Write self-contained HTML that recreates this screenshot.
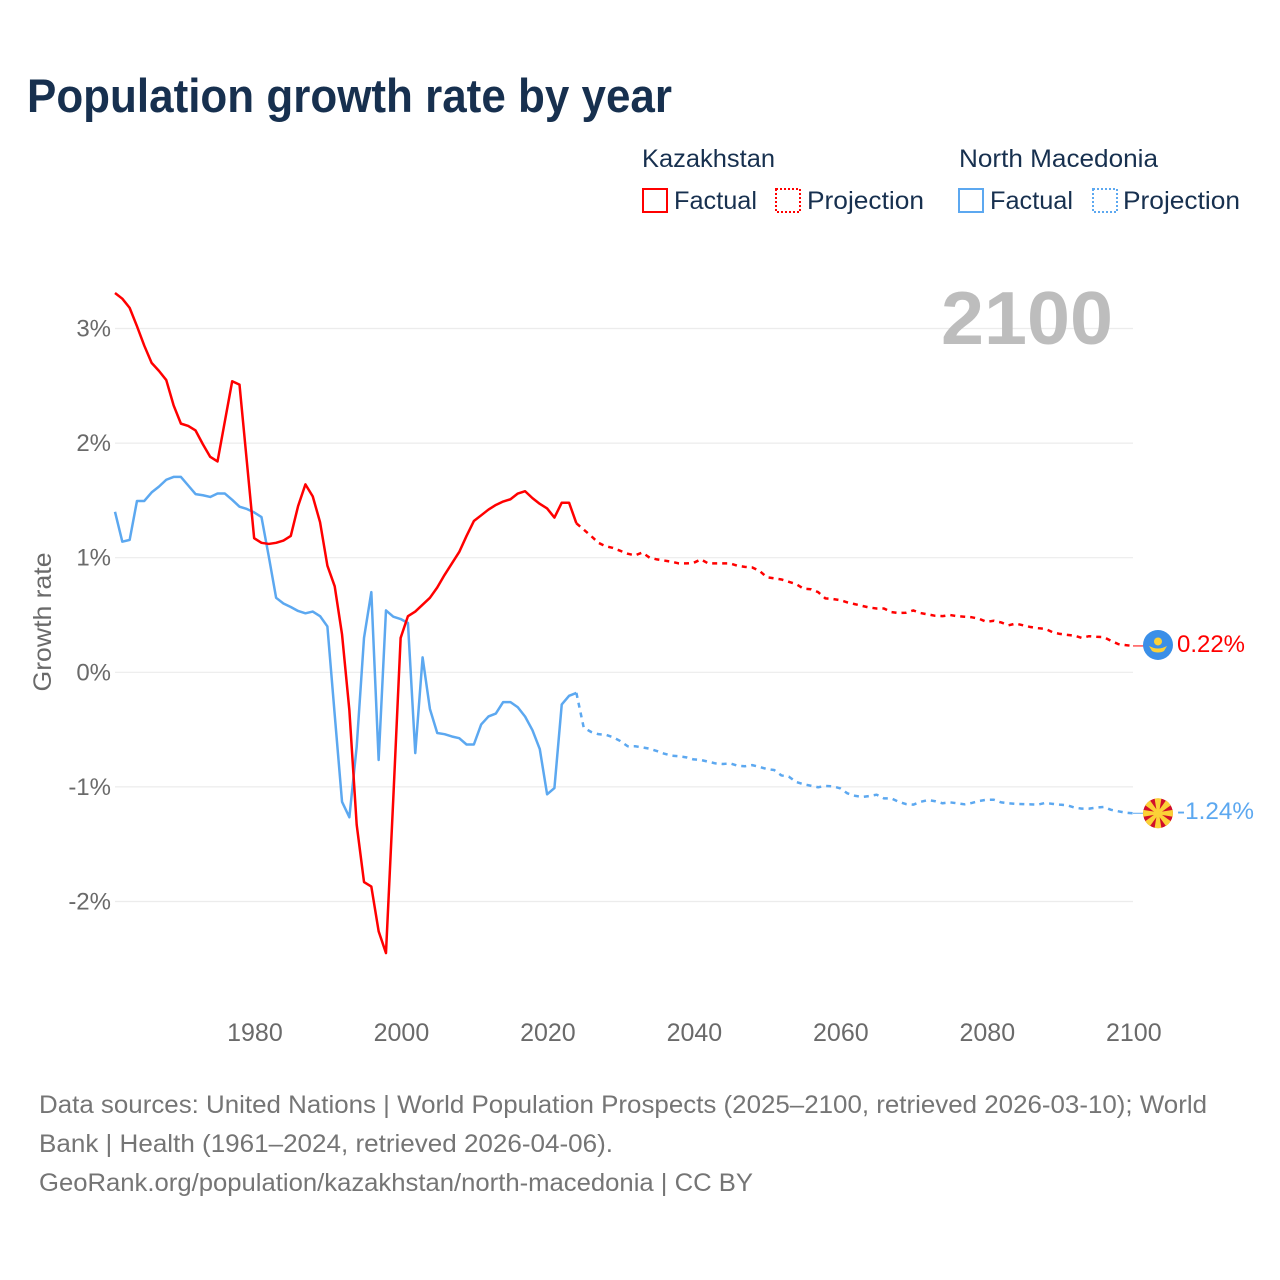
<!DOCTYPE html>
<html lang="en">
<head>
<meta charset="utf-8">
<title>Population growth rate by year</title>
<style>
html,body{margin:0;padding:0;background:#fff;}
svg{display:block;font-family:"Liberation Sans",sans-serif;}
.leg{font-size:25px;fill:#17304f;}
.foot{font-size:25px;fill:#757575;}
.tick{font-size:24px;fill:#6a6a6a;}
</style>
</head>
<body>
<svg id="chart" width="1280" height="1280" viewBox="0 0 1280 1280" xmlns="http://www.w3.org/2000/svg">
  <rect width="1280" height="1280" fill="#fff"/>
  <text x="27" y="112" font-size="47" font-weight="700" fill="#17304f" textLength="645" lengthAdjust="spacingAndGlyphs">Population growth rate by year</text>

  <g>
    <text class="leg" x="642" y="167" textLength="133" lengthAdjust="spacingAndGlyphs">Kazakhstan</text>
    <text class="leg" x="959" y="167" textLength="199" lengthAdjust="spacingAndGlyphs">North Macedonia</text>
    <rect x="643" y="189" width="24" height="23" fill="none" stroke="#ff0000" stroke-width="2"/>
    <text class="leg" x="674" y="209" textLength="83" lengthAdjust="spacingAndGlyphs">Factual</text>
    <rect x="776" y="189" width="24" height="23" fill="none" stroke="#ff0000" stroke-width="2" stroke-dasharray="2 2"/>
    <text class="leg" x="807" y="209" textLength="117" lengthAdjust="spacingAndGlyphs">Projection</text>
    <rect x="959" y="189" width="24" height="23" fill="none" stroke="#5ca8f0" stroke-width="2"/>
    <text class="leg" x="990" y="209" textLength="83" lengthAdjust="spacingAndGlyphs">Factual</text>
    <rect x="1093" y="189" width="24" height="23" fill="none" stroke="#5ca8f0" stroke-width="2" stroke-dasharray="2 2"/>
    <text class="leg" x="1123" y="209" textLength="117" lengthAdjust="spacingAndGlyphs">Projection</text>
  </g>

  <g id="grid"></g>
  <g id="yAxis"></g>
  <g id="xAxis"></g>
  <text transform="translate(51,622) rotate(-90)" text-anchor="middle" font-size="25" fill="#6a6a6a" textLength="139" lengthAdjust="spacingAndGlyphs">Growth rate</text>
  <text x="1113" y="344" text-anchor="end" font-size="75" font-weight="700" fill="#bdbdbd" textLength="172" lengthAdjust="spacingAndGlyphs">2100</text>
  <g id="series"></g>

  <defs>
    <clipPath id="mk-clip"><circle cx="0" cy="0" r="15"/></clipPath>
  </defs>
  <g id="endKz">
    <line x1="1133" x2="1145" y1="0" y2="0" stroke="#ff0000" stroke-width="1"/>
    <g transform="translate(1158,-1)">
      <circle r="15" fill="#3a8fe8"/>
      <circle cx="0" cy="-3.5" r="4" fill="#fbd137"/>
      <path d="M-9,1 C-6,2.5 -3,3.5 0,3.5 C3,3.5 6,2.5 9,1 L6,6 C3,8 -3,8 -6,6 Z" fill="#fbd137"/>
    </g>
    <text id="endKzLabel" x="1177" y="6" font-size="24" fill="#ff0000" textLength="68" lengthAdjust="spacingAndGlyphs"></text>
  </g>
  <g id="endMk">
    <line x1="1133" x2="1145" y1="0" y2="0" stroke="#5ca8f0" stroke-width="1"/>
    <g transform="translate(1158,0)">
      <g clip-path="url(#mk-clip)">
        <circle r="15" fill="#d20f2a"/>
        <g fill="#fbd137">
          <polygon points="-1,0 1,0 3.6,-16 -3.6,-16"/>
          <polygon points="-1,0 1,0 3.6,-16 -3.6,-16" transform="rotate(45)"/>
          <polygon points="-1,0 1,0 3.6,-16 -3.6,-16" transform="rotate(90)"/>
          <polygon points="-1,0 1,0 3.6,-16 -3.6,-16" transform="rotate(135)"/>
          <polygon points="-1,0 1,0 3.6,-16 -3.6,-16" transform="rotate(180)"/>
          <polygon points="-1,0 1,0 3.6,-16 -3.6,-16" transform="rotate(225)"/>
          <polygon points="-1,0 1,0 3.6,-16 -3.6,-16" transform="rotate(270)"/>
          <polygon points="-1,0 1,0 3.6,-16 -3.6,-16" transform="rotate(315)"/>
        </g>
        <circle r="4.2" fill="#fbd137"/>
      </g>
    </g>
    <text id="endMkLabel" x="1177" y="5.5" font-size="24" fill="#5ca8f0" textLength="77" lengthAdjust="spacingAndGlyphs"></text>
  </g>

  <g>
    <text class="foot" x="39" y="1113" textLength="1168" lengthAdjust="spacingAndGlyphs">Data sources: United Nations | World Population Prospects (2025–2100, retrieved 2026-03-10); World</text>
    <text class="foot" x="39" y="1152" textLength="574" lengthAdjust="spacingAndGlyphs">Bank | Health (1961–2024, retrieved 2026-04-06).</text>
    <text class="foot" x="39" y="1191" textLength="714" lengthAdjust="spacingAndGlyphs">GeoRank.org/population/kazakhstan/north-macedonia | CC BY</text>
  </g>
</svg>

<script>
const xTickYears = [1980, 2000, 2020, 2040, 2060, 2080, 2100];
const yTickValues = [3, 2, 1, 0, -1, -2];
const yTickLabels = ["3%", "2%", "1%", "0%", "-1%", "-2%"];

const factualYears = [1961,1962,1963,1964,1965,1966,1967,1968,1969,1970,1971,1972,1973,1974,1975,1976,1977,1978,1979,1980,1981,1982,1983,1984,1985,1986,1987,1988,1989,1990,1991,1992,1993,1994,1995,1996,1997,1998,1999,2000,2001,2002,2003,2004,2005,2006,2007,2008,2009,2010,2011,2012,2013,2014,2015,2016,2017,2018,2019,2020,2021,2022,2023,2024];
const projectionYears = [2024,2025,2026,2027,2028,2029,2030,2031,2032,2033,2034,2035,2036,2037,2038,2039,2040,2041,2042,2043,2044,2045,2046,2047,2048,2049,2050,2051,2052,2053,2054,2055,2056,2057,2058,2059,2060,2061,2062,2063,2064,2065,2066,2067,2068,2069,2070,2071,2072,2073,2074,2075,2076,2077,2078,2079,2080,2081,2082,2083,2084,2085,2086,2087,2088,2089,2090,2091,2092,2093,2094,2095,2096,2097,2098,2099,2100];

const kazakhstanFactual = [3.31,3.26,3.18,3.02,2.85,2.70,2.63,2.55,2.33,2.17,2.15,2.11,1.99,1.88,1.84,2.19,2.54,2.51,1.84,1.17,1.13,1.12,1.13,1.15,1.19,1.45,1.64,1.535,1.31,0.93,0.75,0.33,-0.33,-1.33,-1.83,-1.87,-2.26,-2.45,-1.10,0.30,0.49,0.53,0.59,0.65,0.74,0.85,0.95,1.05,1.19,1.32,1.37,1.42,1.46,1.49,1.51,1.56,1.58,1.52,1.47,1.43,1.35,1.48,1.48,1.30];
const kazakhstanProjection = [1.30,1.245,1.19,1.13,1.10,1.085,1.06,1.035,1.02,1.045,1.00,0.985,0.975,0.965,0.95,0.95,0.955,0.985,0.95,0.95,0.95,0.95,0.93,0.92,0.915,0.885,0.83,0.82,0.81,0.79,0.77,0.73,0.725,0.70,0.645,0.64,0.63,0.61,0.595,0.58,0.565,0.557,0.557,0.525,0.517,0.52,0.54,0.517,0.505,0.493,0.49,0.50,0.49,0.485,0.48,0.467,0.44,0.45,0.435,0.41,0.425,0.41,0.395,0.385,0.38,0.35,0.335,0.327,0.32,0.30,0.315,0.31,0.307,0.275,0.246,0.237,0.23];

const macedoniaFactual = [1.40,1.14,1.155,1.495,1.495,1.57,1.62,1.68,1.705,1.705,1.63,1.555,1.545,1.53,1.56,1.56,1.505,1.445,1.425,1.395,1.355,1.01,0.65,0.60,0.57,0.535,0.515,0.53,0.49,0.40,-0.37,-1.13,-1.265,-0.65,0.30,0.70,-0.765,0.54,0.485,0.465,0.43,-0.705,0.13,-0.32,-0.53,-0.54,-0.56,-0.575,-0.63,-0.63,-0.455,-0.385,-0.36,-0.26,-0.26,-0.305,-0.387,-0.505,-0.67,-1.065,-1.01,-0.28,-0.205,-0.18];
const macedoniaProjection = [-0.18,-0.483,-0.52,-0.54,-0.545,-0.567,-0.60,-0.645,-0.645,-0.655,-0.667,-0.687,-0.71,-0.728,-0.733,-0.742,-0.76,-0.765,-0.78,-0.795,-0.80,-0.795,-0.815,-0.82,-0.81,-0.826,-0.844,-0.853,-0.90,-0.91,-0.957,-0.977,-0.99,-1.003,-0.992,-0.995,-1.012,-1.056,-1.077,-1.088,-1.08,-1.068,-1.10,-1.10,-1.13,-1.15,-1.155,-1.13,-1.115,-1.125,-1.143,-1.135,-1.143,-1.152,-1.14,-1.123,-1.112,-1.112,-1.135,-1.143,-1.148,-1.15,-1.152,-1.155,-1.14,-1.148,-1.155,-1.16,-1.18,-1.19,-1.19,-1.18,-1.175,-1.20,-1.213,-1.225,-1.23];

const endValueLabels = ["0.22%", "-1.24%"];

const SVG_NS = "http://www.w3.org/2000/svg";
const xScale = year => 115 + (year - 1961) * (1133 - 115) / (2100 - 1961);
const yScale = value => 672.3 - value * 114.6;

function pathFrom(years, values) {
  return values.map((v, i) => (i ? "L" : "M") + xScale(years[i]).toFixed(2) + "," + yScale(v).toFixed(2)).join(" ");
}

const grid = document.getElementById("grid");
const yAxis = document.getElementById("yAxis");
const xAxis = document.getElementById("xAxis");
const seriesGroup = document.getElementById("series");

yTickValues.forEach((value, i) => {
  const line = document.createElementNS(SVG_NS, "line");
  line.setAttribute("x1", 115);
  line.setAttribute("x2", 1133);
  line.setAttribute("y1", yScale(value));
  line.setAttribute("y2", yScale(value));
  line.setAttribute("stroke", "#ececec");
  line.setAttribute("stroke-width", "1.2");
  
  
  grid.appendChild(line);

  const label = document.createElementNS(SVG_NS, "text");
  label.setAttribute("x", 111);
  label.setAttribute("y", yScale(value) + 8);
  label.setAttribute("text-anchor", "end");
  label.setAttribute("class", "tick");
  label.textContent = yTickLabels[i];
  
  
  yAxis.appendChild(label);
});

xTickYears.forEach(year => {
  const label = document.createElementNS(SVG_NS, "text");
  label.setAttribute("x", xScale(year) + 0.8);
  label.setAttribute("y", 1041);
  label.setAttribute("text-anchor", "middle");
  label.setAttribute("class", "tick");
  label.setAttribute("style", "font-size:25px");
  label.textContent = year;
  
  
  xAxis.appendChild(label);
});

function addLine(years, values, color, dashed, name) {
  const path = document.createElementNS(SVG_NS, "path");
  path.setAttribute("d", pathFrom(years, values));
  path.setAttribute("fill", "none");
  path.setAttribute("stroke", color);
  path.setAttribute("stroke-width", "2.5");
  path.setAttribute("stroke-linejoin", "round");
  if (dashed) path.setAttribute("stroke-dasharray", "5 5");
  
  
  seriesGroup.appendChild(path);
}

addLine(projectionYears, kazakhstanProjection, "#ff0000", true, "kazakhstan-projection-line");
addLine(projectionYears, macedoniaProjection, "#5ca8f0", true, "north-macedonia-projection-line");
addLine(factualYears, macedoniaFactual, "#5ca8f0", false, "north-macedonia-factual-line");
addLine(factualYears, kazakhstanFactual, "#ff0000", false, "kazakhstan-factual-line");

document.getElementById("endKz").setAttribute("transform", "translate(0," + yScale(kazakhstanProjection[kazakhstanProjection.length - 1]) + ")");
document.getElementById("endMk").setAttribute("transform", "translate(0," + yScale(macedoniaProjection[macedoniaProjection.length - 1]) + ")");
document.getElementById("endKzLabel").textContent = endValueLabels[0];
document.getElementById("endMkLabel").textContent = endValueLabels[1];
</script>
</body>
</html>
